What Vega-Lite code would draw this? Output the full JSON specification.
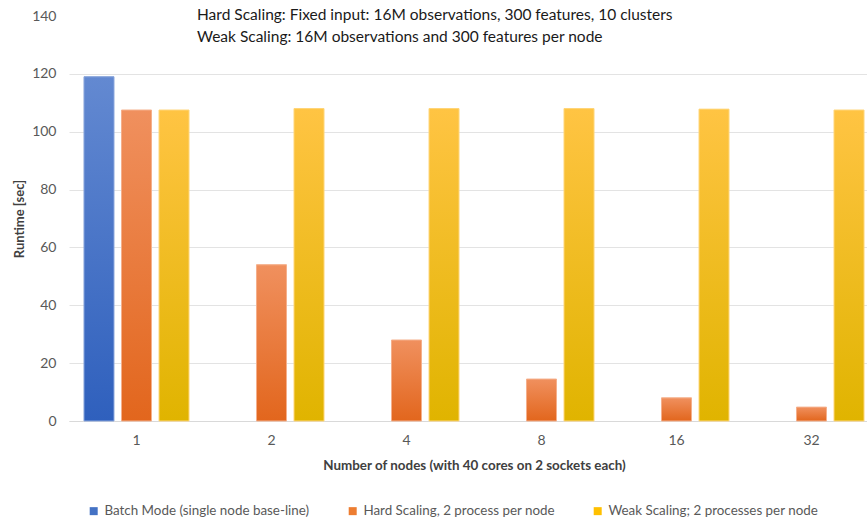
{
  "$schema": "https://vega.github.io/schema/vega-lite/v6.json",
  "autosize": "none",
  "padding": {"left": 69, "top": 16, "right": 0, "bottom": 97},
  "width": 810,
  "height": 405,
  "background": "white",
  "config": {"font": "Lato", "view": {"stroke": null}},
  "title": {
    "text": ["Hard Scaling: Fixed input: 16M observations, 300 features, 10 clusters", "Weak Scaling: 16M observations and 300 features per node"],
    "anchor": "start",
    "frame": "group",
    "dx": 128,
    "offset": -36,
    "fontSize": 15.5,
    "fontWeight": "normal",
    "lineHeight": 22,
    "color": "#1a1a1a",
    "font": "Lato"
  },
  "data": {
    "values": [
      {"nodes": "1", "series": "Batch Mode (single node base-line)", "runtime": 119},
      {"nodes": "1", "series": "Hard Scaling, 2 process per node", "runtime": 107.5},
      {"nodes": "1", "series": "Weak Scaling; 2 processes per node", "runtime": 107.5},
      {"nodes": "2", "series": "Hard Scaling, 2 process per node", "runtime": 54},
      {"nodes": "2", "series": "Weak Scaling; 2 processes per node", "runtime": 108},
      {"nodes": "4", "series": "Hard Scaling, 2 process per node", "runtime": 28},
      {"nodes": "4", "series": "Weak Scaling; 2 processes per node", "runtime": 108},
      {"nodes": "8", "series": "Hard Scaling, 2 process per node", "runtime": 14.5},
      {"nodes": "8", "series": "Weak Scaling; 2 processes per node", "runtime": 108},
      {"nodes": "16", "series": "Hard Scaling, 2 process per node", "runtime": 8},
      {"nodes": "16", "series": "Weak Scaling; 2 processes per node", "runtime": 107.8},
      {"nodes": "32", "series": "Hard Scaling, 2 process per node", "runtime": 4.8},
      {"nodes": "32", "series": "Weak Scaling; 2 processes per node", "runtime": 107.5}
    ]
  },
  "encoding": {
    "x": {
      "field": "nodes",
      "type": "nominal",
      "sort": ["1", "2", "4", "8", "16", "32"],
      "scale": {"paddingInner": 0.222, "paddingOuter": 0.111},
      "axis": {
        "title": "Number of nodes (with 40 cores on 2 sockets each)",
        "labelAngle": 0,
        "ticks": false,
        "domainColor": "#d9d9d9",
        "labelColor": "#595959",
        "labelFontSize": 14,
        "labelPadding": 12,
        "titleColor": "#404040",
        "titleFontSize": 13.4,
        "titleFontWeight": "bold",
        "titlePadding": 11
      }
    },
    "xOffset": {
      "field": "series",
      "type": "nominal",
      "sort": ["Batch Mode (single node base-line)", "Hard Scaling, 2 process per node", "Weak Scaling; 2 processes per node"],
      "scale": {"paddingInner": 0.2, "paddingOuter": 0}
    },
    "y": {
      "field": "runtime",
      "type": "quantitative",
      "scale": {"domain": [0, 140], "nice": false},
      "axis": {
        "title": "Runtime [sec]",
        "values": [0, 20, 40, 60, 80, 100, 120, 140],
        "domain": false,
        "ticks": false,
        "gridColor": "#e3e3e3",
        "gridOpacity": {"condition": {"test": "datum.value === 140", "value": 0}, "value": 1},
        "labelColor": "#595959",
        "labelFontSize": 14,
        "labelPadding": 13,
        "titleColor": "#404040",
        "titleFontSize": 13,
        "titleFontWeight": "bold",
        "titlePadding": 5
      }
    }
  },
  "layer": [
    {
      "mark": {"type": "bar"},
      "encoding": {
        "color": {
          "field": "series",
          "type": "nominal",
          "sort": ["Batch Mode (single node base-line)", "Hard Scaling, 2 process per node", "Weak Scaling; 2 processes per node"],
          "scale": {"range": ["#4472c4", "#ed7d31", "#ffc000"]},
          "legend": {
            "title": null,
            "orient": "none",
            "direction": "horizontal",
            "legendX": 18,
            "legendY": 488,
            "symbolType": "square",
            "symbolSize": 64,
            "symbolStrokeWidth": 0,
            "symbolOpacity": 1,
            "labelColor": "#595959",
            "labelFontSize": 13.4,
            "labelLimit": 400,
            "columnPadding": 36,
            "padding": 0
          }
        }
      }
    },
    {
      "transform": [{"filter": "datum.series === 'Batch Mode (single node base-line)'"}],
      "mark": {"type": "bar", "stroke": "#8aa6dc", "strokeWidth": 1, "fill": {"gradient": "linear", "x1": 0, "y1": 0, "x2": 0, "y2": 1, "stops": [{"offset": 0, "color": "#6389d1"}, {"offset": 1, "color": "#2f60bd"}]}}
    },
    {
      "transform": [{"filter": "datum.series === 'Hard Scaling, 2 process per node'"}],
      "mark": {"type": "bar", "stroke": "#f5b08c", "strokeWidth": 1, "fill": {"gradient": "linear", "x1": 0, "y1": 0, "x2": 0, "y2": 1, "stops": [{"offset": 0, "color": "#f0905e"}, {"offset": 1, "color": "#e2661d"}]}}
    },
    {
      "transform": [{"filter": "datum.series === 'Weak Scaling; 2 processes per node'"}],
      "mark": {"type": "bar", "stroke": "#ffd67a", "strokeWidth": 1, "fill": {"gradient": "linear", "x1": 0, "y1": 0, "x2": 0, "y2": 1, "stops": [{"offset": 0, "color": "#ffc443"}, {"offset": 1, "color": "#e0b400"}]}}
    }
  ]
}
